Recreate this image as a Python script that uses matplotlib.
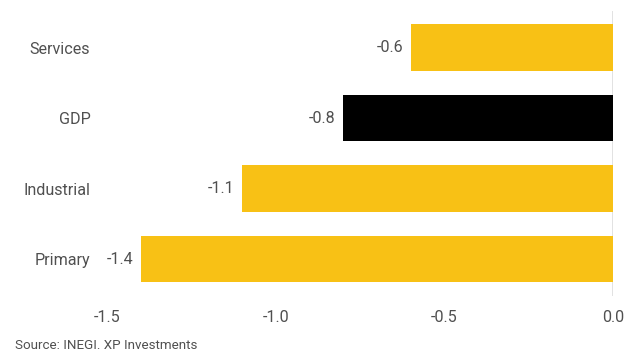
import matplotlib.pyplot as plt

categories = ["Primary", "Industrial", "GDP", "Services"]
values = [-1.4, -1.1, -0.8, -0.6]
colors = ["#F8C115", "#F8C115", "#000000", "#F8C115"]
xticks = [-1.5, -1.0, -0.5, 0.0]

plt.rcParams['font.family'] = ['Roboto', 'DejaVu Sans']
text_color = "#505050"

fig = plt.figure(figsize=(6.27, 3.51), dpi=100)
ax = fig.add_axes([0.1707, 0.157, 0.807, 0.812])

ypos = range(len(categories))
ax.barh(ypos, values, height=0.66, color=colors)

for y, v in zip(ypos, values):
    ax.text(v - 0.022, y, f"{v:.1f}", ha="right", va="center",
            fontsize=11.6, color=text_color)

ax.axvline(0, color="#dddddd", linewidth=1.2, zorder=0)
ax.set_xlim(-1.5, 0.0)
ax.set_ylim(-0.52, 3.52)
ax.set_yticks(list(ypos))
ax.set_yticklabels(categories)
ax.set_xticks(xticks)
ax.set_xticklabels([f"{t:.1f}" for t in xticks])
ax.tick_params(length=0, labelsize=11.6, colors=text_color)
ax.tick_params(axis="x", pad=10)
ax.tick_params(axis="y", pad=12)
for s in ax.spines.values():
    s.set_visible(False)

fig.text(0.024, 0.006, "Source: INEGI. XP Investments", fontsize=9.6,
         color=text_color)

fig.savefig("out.png", dpi=100)
